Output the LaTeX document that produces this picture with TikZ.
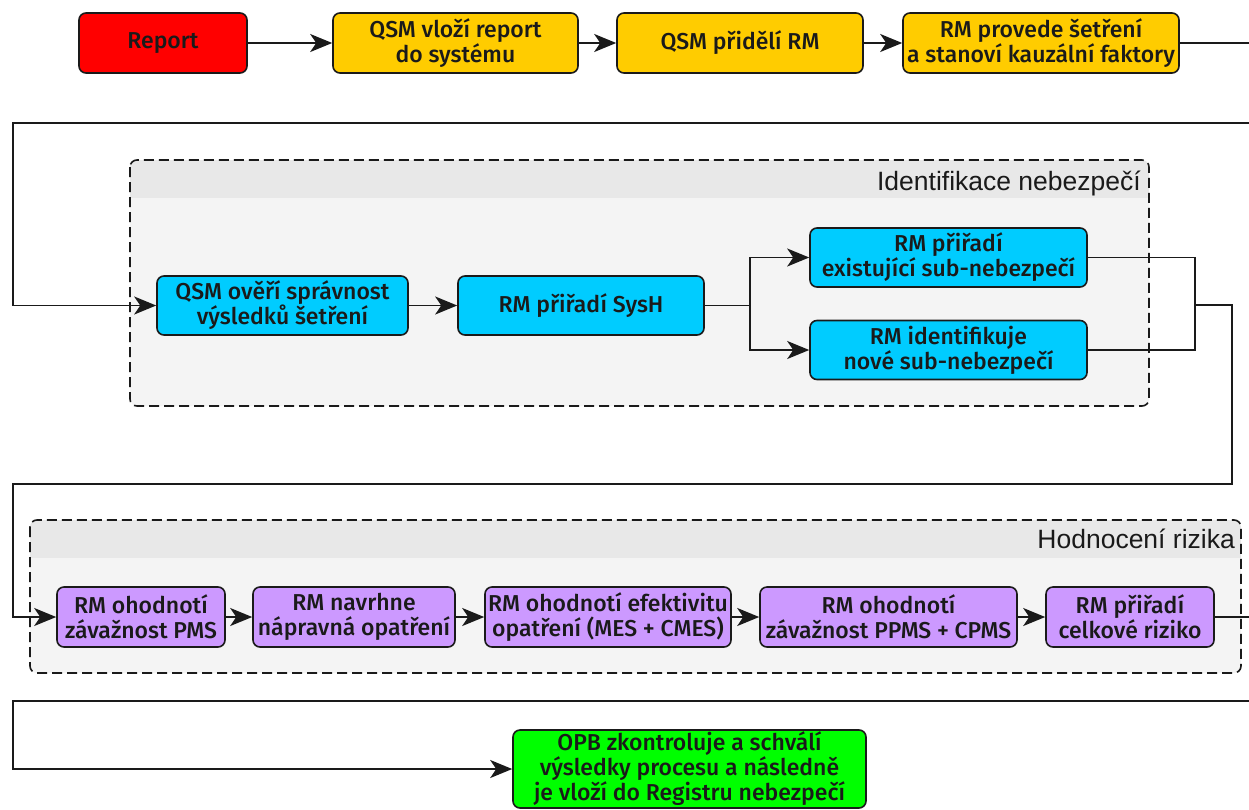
\documentclass[tikz,border=0pt]{standalone}
\usepackage{fontspec}
\setmainfont{Fira Sans}
\newfontfamily\boxfont{Fira Sans Medium}
\newfontfamily\titlefont{Liberation Sans}
\usetikzlibrary{arrows.meta}

\definecolor{ink}{HTML}{1A1A1A}
\definecolor{redfill}{HTML}{FF0000}
\definecolor{yellowfill}{HTML}{FFCC00}
\definecolor{cyanfill}{HTML}{00CCFF}
\definecolor{violetfill}{HTML}{CC99FF}
\definecolor{greenfill}{HTML}{00FF00}
\definecolor{groupbody}{HTML}{F4F4F4}
\definecolor{groupband}{HTML}{E8E8E8}

\begin{document}
\begin{tikzpicture}[x=1pt,y=-1pt,
  box/.style={draw=ink, line width=1.6pt, rounded corners=7pt, align=center,
    text=ink, inner sep=0pt, minimum height=60pt,
    font=\boxfont\fontsize{23}{25}\selectfont},
  arr/.style={line width=1.8pt, draw=ink, -{Stealth[length=22pt,width=18pt,inset=6pt]}},
  link/.style={line width=1.8pt, draw=ink},
  groupline/.style={draw=ink, line width=1.6pt, dash pattern=on 10pt off 5pt, rounded corners=7pt},
  grouptitle/.style={anchor=base east, inner sep=0pt, text=ink,
    font=\titlefont\fontsize{26.5}{30}\selectfont},
]
\clip (0,0) rectangle (1249,809);
\fill[white] (0,0) rectangle (1249,809);

% ---- group frames (drawn first, behind everything) ----
\fill[groupbody, rounded corners=7pt] (130,160) rectangle (1149,406);
\begin{scope}
  \clip[rounded corners=7pt] (130,160) rectangle (1149,406);
  \fill[groupband] (130,160) rectangle (1149,198);
\end{scope}
\draw[groupline] (130,160) rectangle (1149,406);
\node[grouptitle] (g1title) at (1141,190) {Identifikace nebezpečí};

\fill[groupbody, rounded corners=7pt] (30,520) rectangle (1241,673);
\begin{scope}
  \clip[rounded corners=7pt] (30,520) rectangle (1241,673);
  \fill[groupband] (30,520) rectangle (1241,558);
\end{scope}
\draw[groupline] (30,520) rectangle (1241,673);
\node[grouptitle] (g2title) at (1235,548) {Hodnocení rizika};

% ---- first row ----
\node[box, fill=redfill, minimum width=168pt] (report) at (163,43) {Report};
\node[box, fill=yellowfill, minimum width=245pt] (qsmv) at (455.5,43) {QSM vloží report\\do systému};
\node[box, fill=yellowfill, minimum width=246pt] (qsmp) at (740,43) {QSM přidělí RM};
\node[box, fill=yellowfill, minimum width=276pt] (rmprov) at (1041,43) {RM provede šetření\\a stanoví kauzální faktory};

% ---- hazard identification ----
\node[box, fill=cyanfill, minimum width=251pt, minimum height=59pt] (qsmover) at (282.5,305.5) {QSM ověří správnost\\výsledků šetření};
\node[box, fill=cyanfill, minimum width=246pt, minimum height=59pt] (sysh) at (581,305.5) {RM přiřadí SysH};
\node[box, fill=cyanfill, minimum width=277pt, minimum height=59pt] (exist) at (948.5,257.5) {RM přiřadí\\existující sub-nebezpečí};
\node[box, fill=cyanfill, minimum width=277pt, minimum height=59pt] (nove) at (948.5,350) {RM identifikuje\\nové sub-nebezpečí};

% ---- risk assessment ----
\node[box, fill=violetfill, minimum width=168pt] (pms) at (141,617) {RM ohodnotí\\závažnost PMS};
\node[box, fill=violetfill, minimum width=202pt] (napr) at (354,617) {RM navrhne\\nápravná opatření};
\node[box, fill=violetfill, minimum width=246pt] (efekt) at (608,617) {RM ohodnotí efektivitu\\opatření (MES + CMES)};
\node[box, fill=violetfill, minimum width=257pt] (ppms) at (888.5,617) {RM ohodnotí\\závažnost PPMS + CPMS};
\node[box, fill=violetfill, minimum width=168pt] (celk) at (1130,617) {RM přiřadí\\celkové riziko};

% ---- approval ----
\node[box, fill=greenfill, minimum width=353pt, minimum height=78pt] (opb) at (689.5,769) {OPB zkontroluje a schválí\\výsledky procesu a následně\\je vloží do Registru nebezpečí};

% ---- routing points ----
\coordinate (edgeA) at (1252,43);
\coordinate (edgeB) at (1252,123);
\coordinate (laneB) at (13,123);
\coordinate (split) at (750,305.5);
\coordinate (merge) at (1195,305);
\coordinate (drop) at (1232,305);
\coordinate (laneC) at (1232,484);
\coordinate (laneCl) at (13,484);
\coordinate (edgeD) at (1252,617);
\coordinate (edgeE) at (1252,701);
\coordinate (laneE) at (13,701);

% ---- connectors ----
\draw[arr] (report) -- (qsmv);
\draw[arr] (qsmv) -- (qsmp);
\draw[arr] (qsmp) -- (rmprov);
\draw[link] (rmprov) -- (edgeA);
\draw[arr] (edgeB) -- (laneB) |- (qsmover);

\draw[arr] (qsmover) -- (sysh);
\draw[link] (sysh) -- (split);
\draw[arr] (split) |- (exist);
\draw[arr] (split) |- (nove);
\draw[link] (exist) -| (merge);
\draw[link] (nove) -| (merge);
\draw[arr] (merge) -- (drop) -- (laneC) -- (laneCl) |- (pms);

\draw[arr] (pms) -- (napr);
\draw[arr] (napr) -- (efekt);
\draw[arr] (efekt) -- (ppms);
\draw[arr] (ppms) -- (celk);
\draw[link] (celk) -- (edgeD);
\draw[arr] (edgeE) -- (laneE) |- (opb);
\end{tikzpicture}
\end{document}
